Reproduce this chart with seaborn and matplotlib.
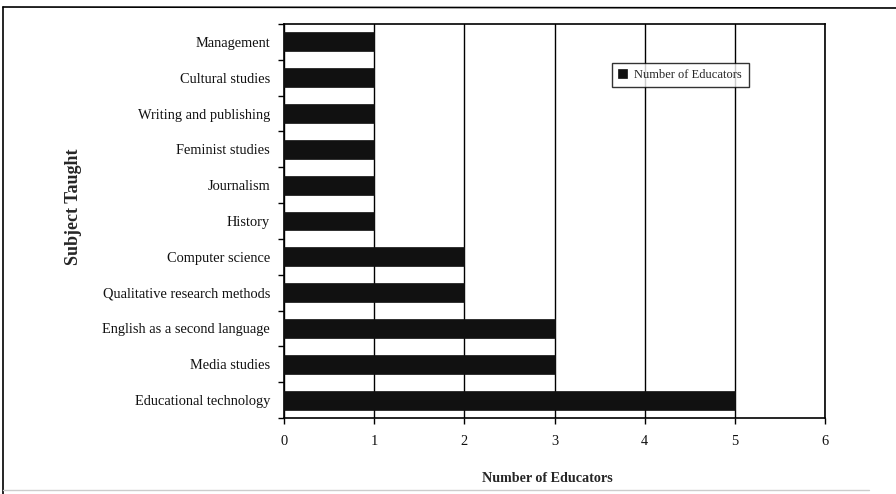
import matplotlib
matplotlib.use("Agg")
import matplotlib.pyplot as plt
import seaborn as sns
import pandas as pd
import numpy as np
from matplotlib.lines import Line2D

subjects = [
    "Management",
    "Cultural studies",
    "Writing and publishing",
    "Feminist studies",
    "Journalism",
    "History",
    "Computer science",
    "Qualitative research methods",
    "English as a second language",
    "Media studies",
    "Educational technology",
]
educators = [1, 1, 1, 1, 1, 1, 2, 2, 3, 3, 5]
x_ticks = [0, 1, 2, 3, 4, 5, 6]
series_name = "Number of Educators"

df = pd.DataFrame({"Subject": subjects, "Count": educators})

sns.set_theme(style="white")
plt.rcParams["font.family"] = ["Liberation Serif", "DejaVu Serif"]

fig = plt.figure(figsize=(8.96, 4.94), dpi=100)
ax = fig.add_axes([284 / 896, 1 - 418 / 494, (825 - 284) / 896, (418 - 24) / 494])

sns.barplot(data=df, x="Count", y="Subject", orient="h", color="#111111",
            width=0.53, ax=ax, saturation=1, edgecolor="#111111", linewidth=0.5,
            zorder=3)

ax.set_xlim(0, 6)
ax.set_ylim(len(subjects) - 0.5, -0.5)
ax.set_xticks(x_ticks)
ax.set_xticklabels([str(t) for t in x_ticks], fontsize=10.4)
ax.tick_params(axis="y", which="major", length=0, labelsize=10.4, pad=10)
ax.set_yticks(np.arange(-0.5, len(subjects), 1), minor=True)
ax.tick_params(axis="y", which="minor", length=4, width=1, color="black", direction="out", left=True)
ax.tick_params(axis="x", which="major", length=4, width=1, color="black", direction="out",
               bottom=True, pad=8, labelsize=10.4)
for lab in ax.get_yticklabels() + ax.get_xticklabels():
    lab.set_color("#111111")

ax.grid(axis="x", color="black", linewidth=1.0, zorder=1)
ax.grid(axis="y", visible=False)
ax.set_axisbelow(True)
for sp in ax.spines.values():
    sp.set_color("black")
    sp.set_linewidth(1.2)
    sp.set_visible(True)

ax.set_xlabel("Number of Educators", fontsize=10.2, fontweight="bold")
ax.set_ylabel("Subject Taught", fontsize=13, fontweight="bold")
ax.yaxis.set_label_coords((82 - 284) / 541, (418 - 207) / 394)
ax.xaxis.set_label_coords((547 - 284) / 541, (418 - 472) / 394)

handle = ax.patches[0]
leg = ax.legend([handle], [series_name], loc="upper left",
                bbox_to_anchor=((612 - 284) / 541, (418 - 63) / 394),
                borderaxespad=0, frameon=True, fancybox=False, fontsize=9,
                handlelength=0.7, handleheight=0.7, borderpad=0.5, handletextpad=0.6)
leg.get_frame().set_edgecolor("black")
leg.get_frame().set_linewidth(1.0)
leg.get_frame().set_facecolor("white")
leg.set_zorder(5)

# page frame: left and top edges, faint bottom edge
fig.lines.append(Line2D([3 / 896, 3 / 896], [0, 1 - 7 / 494], transform=fig.transFigure,
                        color="black", linewidth=1.2))
fig.lines.append(Line2D([3 / 896, 1], [1 - 7 / 494, 1 - 8 / 494], transform=fig.transFigure,
                        color="black", linewidth=1.2))
fig.lines.append(Line2D([3 / 896, 0.97], [1 - 490 / 494, 1 - 490 / 494], transform=fig.transFigure,
                        color="#cccccc", linewidth=1.0))

fig.savefig("out.png", dpi=100, facecolor="white")
